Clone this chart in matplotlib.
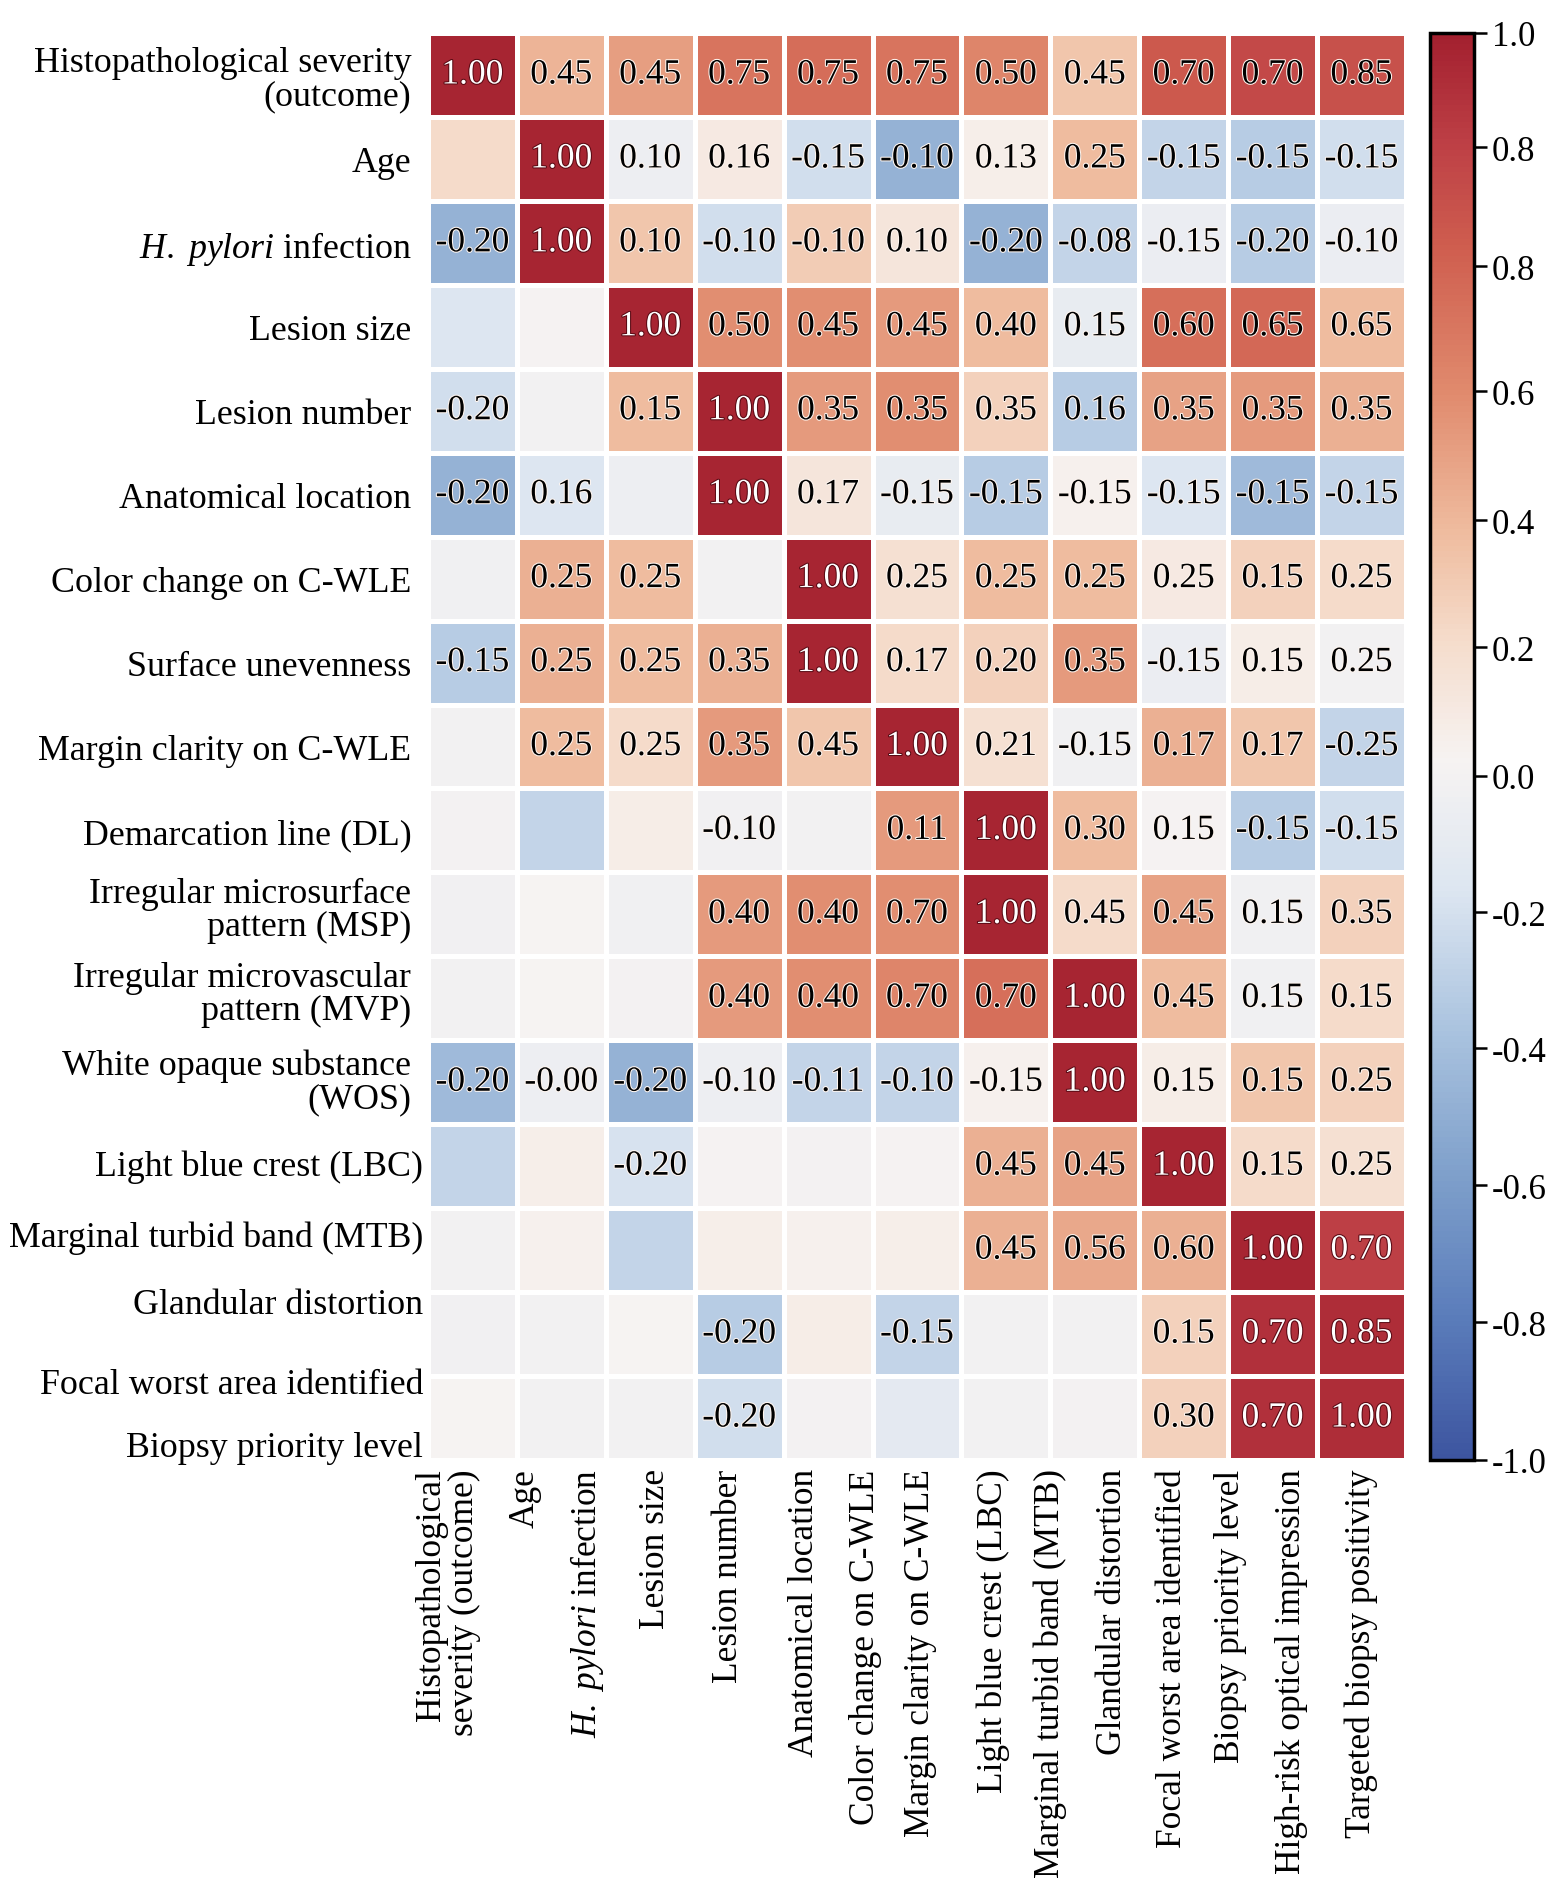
import numpy as np
import matplotlib
matplotlib.use("Agg")
import matplotlib.pyplot as plt
from matplotlib.colors import LinearSegmentedColormap
import matplotlib.patheffects as pe

plt.rcParams['font.family'] = ['Liberation Serif', 'DejaVu Serif']
plt.rcParams['mathtext.fontset'] = 'custom'
plt.rcParams['mathtext.rm'] = 'Liberation Serif'
plt.rcParams['mathtext.it'] = 'Liberation Serif:italic'

# row labels (18 labels over 17 drawn rows, as in the figure)
row_labels = [
    'Histopathological severity\n(outcome)', 'Age', r'$\mathit{H.\ pylori}$ infection',
    'Lesion size', 'Lesion number', 'Anatomical location', 'Color change on C-WLE',
    'Surface unevenness', 'Margin clarity on C-WLE', 'Demarcation line (DL)',
    'Irregular microsurface\npattern (MSP)', 'Irregular microvascular\npattern (MVP)',
    'White opaque substance\n(WOS)', 'Light blue crest (LBC)', 'Marginal turbid band (MTB)',
    'Glandular distortion', 'Focal worst area identified', 'Biopsy priority level',
]
col_labels = [
    'Histopathological\nseverity (outcome)', 'Age', r'$\mathit{H.\ pylori}$ infection',
    'Lesion size', 'Lesion number', 'Anatomical location', 'Color change on C-WLE',
    'Margin clarity on C-WLE', 'Light blue crest (LBC)', 'Marginal turbid band (MTB)',
    'Glandular distortion', 'Focal worst area identified', 'Biopsy priority level',
    'High-risk optical impression', 'Targeted biopsy positivity',
]

nan = np.nan
# printed coefficients (nan = cell left without a number)
annot = np.array([
    [1.00, 0.45, 0.45, 0.75, 0.75, 0.75, 0.50, 0.45, 0.70, 0.70, 0.85],
    [nan, 1.00, 0.10, 0.16, -0.15, -0.10, 0.13, 0.25, -0.15, -0.15, -0.15],
    [-0.20, 1.00, 0.10, -0.10, -0.10, 0.10, -0.20, -0.08, -0.15, -0.20, -0.10],
    [nan, nan, 1.00, 0.50, 0.45, 0.45, 0.40, 0.15, 0.60, 0.65, 0.65],
    [-0.20, nan, 0.15, 1.00, 0.35, 0.35, 0.35, 0.16, 0.35, 0.35, 0.35],
    [-0.20, 0.16, nan, 1.00, 0.17, -0.15, -0.15, -0.15, -0.15, -0.15, -0.15],
    [nan, 0.25, 0.25, nan, 1.00, 0.25, 0.25, 0.25, 0.25, 0.15, 0.25],
    [-0.15, 0.25, 0.25, 0.35, 1.00, 0.17, 0.20, 0.35, -0.15, 0.15, 0.25],
    [nan, 0.25, 0.25, 0.35, 0.45, 1.00, 0.21, -0.15, 0.17, 0.17, -0.25],
    [nan, nan, nan, -0.10, nan, 0.11, 1.00, 0.30, 0.15, -0.15, -0.15],
    [nan, nan, nan, 0.40, 0.40, 0.70, 1.00, 0.45, 0.45, 0.15, 0.35],
    [nan, nan, nan, 0.40, 0.40, 0.70, 0.70, 1.00, 0.45, 0.15, 0.15],
    [-0.20, -0.00, -0.20, -0.10, -0.11, -0.10, -0.15, 1.00, 0.15, 0.15, 0.25],
    [nan, nan, -0.20, nan, nan, nan, 0.45, 0.45, 1.00, 0.15, 0.25],
    [nan, nan, nan, nan, nan, nan, 0.45, 0.56, 0.60, 1.00, 0.70],
    [nan, nan, nan, -0.20, nan, -0.15, nan, nan, 0.15, 0.70, 0.85],
    [nan, nan, nan, -0.20, nan, nan, nan, nan, 0.30, 0.70, 1.00],
])

# shade of each cell as read from the colour scale (does not follow the printed numbers)
shade = np.array([
    [0.97, 0.33, 0.42, 0.60, 0.63, 0.60, 0.52, 0.25, 0.72, 0.80, 0.76],
    [0.15, 0.97, -0.08, 0.05, -0.25, -0.50, 0.02, 0.30, -0.30, -0.35, -0.25],
    [-0.50, 0.97, 0.25, -0.25, 0.22, 0.08, -0.50, -0.30, -0.10, -0.35, -0.10],
    [-0.20, -0.03, 0.97, 0.48, 0.48, 0.43, 0.30, -0.12, 0.62, 0.65, 0.30],
    [-0.25, -0.05, 0.30, 0.97, 0.43, 0.48, 0.20, -0.35, 0.40, 0.43, 0.35],
    [-0.50, -0.20, -0.08, 0.97, 0.08, -0.12, -0.35, 0.00, -0.20, -0.45, -0.30],
    [-0.07, 0.35, 0.30, -0.05, 0.97, 0.12, 0.30, 0.30, 0.05, 0.20, 0.15],
    [-0.35, 0.35, 0.30, 0.35, 0.97, 0.15, 0.20, 0.43, -0.10, 0.03, -0.05],
    [-0.05, 0.30, 0.15, 0.43, 0.25, 0.97, 0.12, -0.07, 0.35, 0.25, -0.30],
    [-0.04, -0.30, 0.03, -0.06, -0.05, 0.43, 0.97, 0.30, -0.03, -0.35, -0.25],
    [-0.06, -0.02, -0.07, 0.43, 0.48, 0.48, 0.97, 0.15, 0.40, -0.07, 0.20],
    [-0.05, -0.02, -0.04, 0.43, 0.48, 0.52, 0.62, 0.97, 0.30, -0.07, 0.15],
    [-0.45, -0.08, -0.50, -0.08, -0.30, -0.30, 0.00, 0.97, 0.03, 0.25, 0.20],
    [-0.30, 0.02, -0.22, -0.03, -0.04, -0.03, 0.35, 0.40, 0.97, 0.15, 0.12],
    [-0.05, 0.00, -0.30, 0.02, 0.00, 0.02, 0.35, 0.38, 0.35, 0.97, 0.85],
    [-0.06, -0.05, -0.02, -0.35, 0.03, -0.30, -0.05, -0.05, 0.20, 0.92, 0.93],
    [-0.02, -0.05, -0.05, -0.25, -0.04, -0.15, -0.05, -0.04, 0.20, 0.92, 0.93],
])

cbar_labels = ['1.0', '0.8', '0.8', '0.6', '0.4', '0.2', '0.0', '-0.2', '-0.4', '-0.6', '-0.8', '-1.0']

# colour scale taken from the bar on the right
anchors = [(-1.0, '#3d55a0'), (-0.8, '#5b7dbb'), (-0.6, '#7fa0cb'), (-0.4, '#aac3df'),
           (-0.2, '#dde6f1'), (-0.02, '#f6f3f2'), (0.15, '#f5dccb'), (0.3, '#efbc9f'),
           (0.5, '#e08a6d'), (0.7, '#cf5e4f'), (0.85, '#bd3f45'), (1.0, '#a3202f')]
cmap = LinearSegmentedColormap.from_list('corr', [((v + 1) / 2, c) for v, c in anchors])

W, H = 1568, 1883
fig = plt.figure(figsize=(W / 100, H / 100), dpi=100)
ax = fig.add_axes([428 / W, 1 - 1461 / H, (1406 - 428) / W, (1461 - 34) / H])

nr, nc = shade.shape
mesh = ax.pcolormesh(np.arange(nc + 1), np.arange(nr + 1), shade, cmap=cmap,
                     vmin=-1, vmax=1, edgecolors='white', linewidth=2.5)
ax.set_xlim(0, nc)
ax.set_ylim(nr, 0)
for s in ax.spines.values():
    s.set_visible(False)

for i in range(nr):
    for j in range(nc):
        v = annot[i, j]
        if np.isnan(v):
            continue
        dark = shade[i, j] >= 0.84
        ax.text(j + 0.5, i + 0.5, f'{v:.2f}', ha='center', va='center', fontsize=25.5,
                color='white' if dark else 'black',
                path_effects=[pe.withStroke(linewidth=1.5,
                                            foreground='#5a0a14' if dark else '#fff6f0')])

# label positions do not line up with the cells in the original figure
ytick_pos = [0.5, 1.5, 2.5, 3.5, 4.5, 5.5, 6.5, 7.5, 8.5, 9.5, 10.4, 11.4, 12.45,
             13.45, 14.3, 15.1, 16.05, 16.8]
xtick_pos = [0.23, 1.09, 1.79, 2.56, 3.38, 4.23, 4.92, 5.54, 6.36, 7.0, 7.7, 8.37,
             9.03, 9.71, 10.5]

ax.set_yticks(ytick_pos)
ax.set_yticklabels(row_labels, fontsize=25.8)
ax.set_xticks(xtick_pos)
ax.set_xticklabels(col_labels, fontsize=25.5, rotation=90)
ax.tick_params(axis='both', length=0)
ax.tick_params(axis='x', pad=6)
for k, t in enumerate(ax.yaxis.get_major_ticks()):
    t.set_pad(3.5 if k >= 13 else 12)
    t.label1.set_linespacing(1.0)
for t in ax.get_xticklabels():
    t.set_multialignment('right')
    t.set_linespacing(1.0)

cax = fig.add_axes([1430 / W, 1 - 1461 / H, 44 / W, (1461 - 34) / H])
cb = fig.colorbar(mesh, cax=cax)
cb.set_ticks([1.0, 0.84, 0.673, 0.498, 0.317, 0.139, -0.041, -0.232, -0.423, -0.615, -0.807, -1.0])
cb.set_ticklabels(cbar_labels)
cb.outline.set_linewidth(2.5)
cax.tick_params(length=9, width=1.8, labelsize=25, pad=4)

fig.savefig('out.png', dpi=100)
